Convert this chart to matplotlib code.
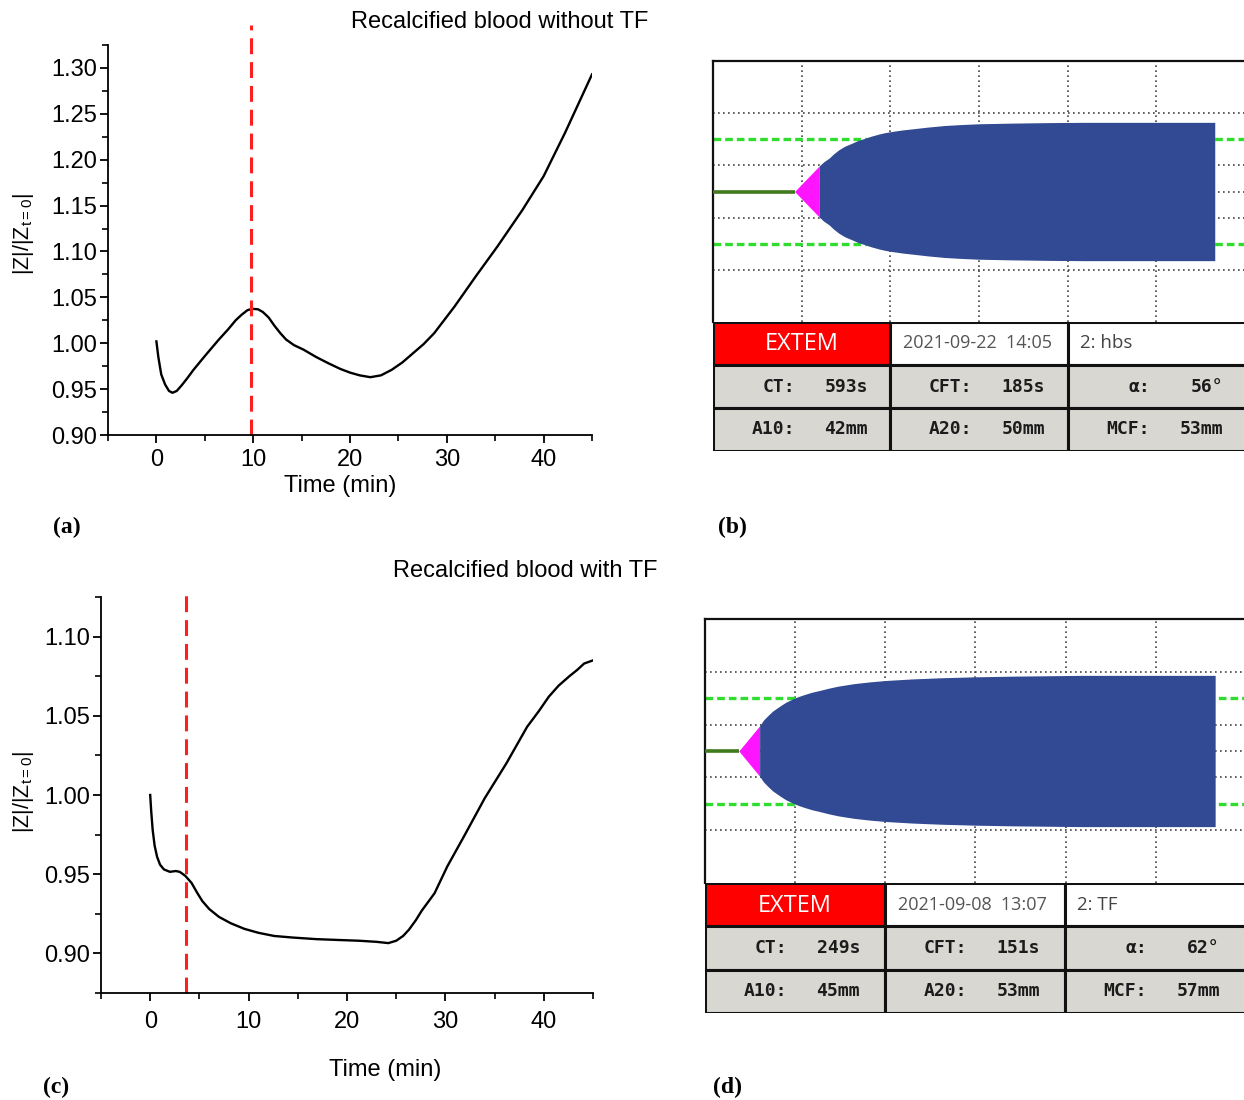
import numpy as np
import matplotlib
matplotlib.use("Agg")
import matplotlib.pyplot as plt
from matplotlib.patches import Rectangle
from matplotlib.ticker import MultipleLocator

plt.rcParams['font.family'] = ['Liberation Sans', 'DejaVu Sans']
plt.rcParams['mathtext.fontset'] = 'custom'
plt.rcParams['mathtext.rm'] = 'Liberation Sans'
plt.rcParams['mathtext.it'] = 'Liberation Sans:italic'

W, H = 1244, 1100

# ---- impedance curves ----
# (a) recalcified blood without TF
t_a = [0, 0.2, 0.5, 0.9, 1.3, 1.66, 2.1, 2.6, 3.2, 3.83, 5.0, 6.45, 7.4, 8.19, 8.8,
       9.4, 9.9, 10.5, 11.0, 11.6, 12.2, 12.8, 13.4, 14.2, 15.2, 16.5, 17.8, 19.0,
       20.0, 21.0, 22.1, 23.2, 24.3, 25.4, 26.5, 27.6, 28.7, 30.8, 33.0, 35.2, 37.8,
       40.0, 42.2, 45.0]
z_a = [1.002, 0.985, 0.966, 0.955, 0.948, 0.946, 0.948, 0.954, 0.962, 0.971, 0.986,
       1.004, 1.015, 1.025, 1.031, 1.036, 1.0375, 1.037, 1.034, 1.028, 1.019, 1.011,
       1.004, 0.998, 0.993, 0.985, 0.978, 0.972, 0.968, 0.965, 0.963, 0.965, 0.971,
       0.979, 0.989, 0.999, 1.011, 1.040, 1.073, 1.105, 1.145, 1.182, 1.229, 1.293]
marker_a = 9.8

# (c) recalcified blood with TF
t_c = [0, 0.1, 0.25, 0.45, 0.7, 1.0, 1.4, 2.0, 2.6, 3.0, 3.56, 4.2, 4.8, 5.3, 6.0,
       7.0, 8.2, 9.57, 11.0, 12.6, 14.5, 16.9, 19.0, 21.2, 23.0, 24.2, 25.0, 25.7,
       26.3, 27.0, 27.6, 28.9, 30.2, 31.9, 34.0, 36.2, 38.3, 39.5, 40.5, 41.5, 42.6,
       43.4, 44.1, 45.0]
z_c = [1.000, 0.990, 0.978, 0.968, 0.961, 0.956, 0.953, 0.9515, 0.952, 0.9515, 0.949,
       0.9445, 0.938, 0.933, 0.928, 0.923, 0.919, 0.9155, 0.913, 0.911, 0.910, 0.909,
       0.9085, 0.908, 0.9073, 0.9065, 0.908, 0.911, 0.915, 0.921, 0.927, 0.938, 0.955,
       0.974, 0.998, 1.020, 1.043, 1.053, 1.062, 1.069, 1.075, 1.079, 1.083, 1.085]
marker_c = 3.6

# ---- ROTEM traces: time (min) vs amplitude (mm) ----
rotem_b_t = [9.2, 12.0, 12.5, 13.1, 13.6, 14.2, 14.9, 15.7, 16.4, 17.2, 17.9, 18.7,
             19.4, 20.2, 21.3, 22.5, 24.3, 26.2, 28.0, 30.0, 33.7, 38.0, 42.0, 50.0,
             56.6]
rotem_b_amp = [0, 19.7, 22.8, 25.6, 28.8, 32.0, 34.8, 37.1, 39.2, 40.9, 42.5, 44.0,
               45.1, 46.0, 47.1, 48.0, 49.4, 50.6, 51.3, 51.9, 52.4, 52.8, 53.0, 53.0,
               53.0]
rotem_d_t = [3.75, 6.06, 6.5, 7.03, 7.5, 8.0, 8.5, 8.96, 9.9, 10.9, 11.8, 12.8, 13.8,
             14.75, 16.5, 18.2, 20.0, 23.0, 26.3, 30.0, 34.1, 41.8, 56.6]
rotem_d_amp = [0, 19.1, 23.5, 27.2, 30.2, 32.6, 34.9, 36.9, 40.0, 42.5, 44.4, 46.0,
               47.7, 49.1, 51.0, 52.3, 53.4, 54.6, 55.5, 56.2, 56.7, 57.3, 57.3]

header_b = ["EXTEM", "2021-09-22  14:05", "2: hbs"]
header_d = ["EXTEM", "2021-09-08  13:07", "2: TF"]
params_names = [["CT:", "CFT:", "α:"], ["A10:", "A20:", "MCF:"]]
params_b = [["593s", "185s", "56°"], ["42mm", "50mm", "53mm"]]
params_d = [["249s", "151s", "62°"], ["45mm", "53mm", "57mm"]]

fig = plt.figure(figsize=(W / 100, H / 100), dpi=100)


def px_axes(l, t, r, b):
    return fig.add_axes([l / W, 1 - b / H, (r - l) / W, (b - t) / H])


def px_text(x, y, s, **kw):
    fig.text(x / W, 1 - y / H, s, **kw)


def impedance_panel(box, t, z, marker, ylim, ytop, dash_top, xpad):
    ax = px_axes(*box)
    ax.plot(t, z, color='black', lw=1.7, solid_joinstyle='round')
    ax.axvline(marker, ymin=0, ymax=dash_top, color='#ff1f1f', lw=2.2,
               ls=(0, (5.2, 2.6)), clip_on=False)
    ax.set_xlim(-5, 45)
    ax.set_ylim(*ylim)
    ax.set_xticks([0, 10, 20, 30, 40])
    ax.xaxis.set_minor_locator(MultipleLocator(5))
    ax.set_yticks(np.arange(0.90, ytop + 0.001, 0.05))
    ax.yaxis.set_minor_locator(MultipleLocator(0.025))
    ax.yaxis.set_major_formatter('{x:.2f}')
    for s in ['top', 'right']:
        ax.spines[s].set_visible(False)
    for s in ['left', 'bottom']:
        ax.spines[s].set_linewidth(1.3)
    ax.tick_params(which='major', direction='out', length=6, width=1.3,
                   labelsize=17)
    ax.tick_params(which='minor', direction='out', length=4, width=1.2)
    ax.tick_params(axis='x', which='major', pad=xpad)
    ax.tick_params(axis='y', which='major', pad=2)
    return ax


impedance_panel((108, 45, 592, 435), t_a, z_a, marker_a, (0.90, 1.325), 1.30, 1.051, 4)
impedance_panel((101, 597, 593, 993), t_c, z_c, marker_c, (0.875, 1.125), 1.10, 1.013, 7)

ylab = r'|Z|/|Z$_{\mathregular{t=0}}$|'
px_text(500, 22, "Recalcified blood without TF", fontsize=17, ha='center', va='center')
px_text(525, 571, "Recalcified blood with TF", fontsize=17, ha='center', va='center')
px_text(340, 486, "Time (min)", fontsize=17, ha='center', va='center')
px_text(385, 1070, "Time (min)", fontsize=17, ha='center', va='center')
px_text(23, 234, ylab, fontsize=15.5, rotation=90, ha='center', va='center')
px_text(23, 792, ylab, fontsize=15.5, rotation=90, ha='center', va='center')

for lab, x, y in [("(a)", 67, 527), ("(b)", 732, 527), ("(c)", 56, 1087), ("(d)", 727, 1087)]:
    px_text(x, y, lab, fontsize=17, fontweight='bold', family='Liberation Serif',
            ha='center', va='center')


def rotem_panel(left, top, split, bottom, cols, tmax, t, amp, header, values):
    ax = px_axes(left, top, W, split)
    ax.set_xlim(0, tmax)
    ax.set_ylim(-50, 50)
    t = np.array(t)
    half = np.array(amp) / 2.0
    for g in [10, 20, 30, 40, 50]:
        ax.axvline(g, color='#444444', lw=1.2, ls=(0, (1, 2)), zorder=1)
    for g in [-30, -10, 0, 10, 30]:
        ax.axhline(g, color='#444444', lw=1.2, ls=(0, (1, 2)), zorder=1)
    for g in [-20, 20]:
        ax.axhline(g, color='#2fdc2f', lw=2.4, ls=(0, (2.3, 1.2)), zorder=1)
    ax.plot([0, t[0]], [0, 0], color='#3f7a1c', lw=2.6, zorder=3,
            solid_capstyle='butt')
    pink = half <= 10.5
    ax.fill_between(t[pink], -half[pink], half[pink], color='#ff14ff', lw=0, zorder=2)
    k = np.argmax(~pink) - 1
    ax.fill_between(t[k:], -half[k:], half[k:], color='#314a93', lw=0, zorder=2)
    ax.set_xticks([])
    ax.set_yticks([])
    ax.spines['right'].set_visible(False)
    ax.spines['bottom'].set_visible(False)
    for s in ['left', 'top']:
        ax.spines[s].set_linewidth(1.6)
        ax.spines[s].set_color('#111111')

    tb = px_axes(left, split, W, bottom)
    tb.set_xlim(left, W)
    tb.set_ylim(bottom, split)
    tb.axis('off')
    edges = list(cols) + [W + 6]
    rh = (bottom - split) / 3.0
    fills = [['#ff0000', 'white', 'white'], ['#d8d7d1'] * 3, ['#d8d7d1'] * 3]
    for r in range(3):
        for c in range(3):
            tb.add_patch(Rectangle((edges[c], split + r * rh), edges[c + 1] - edges[c], rh,
                                   facecolor=fills[r][c], edgecolor='#111111', lw=2.2))
    yc = split + rh / 2
    tb.text((edges[0] + edges[1]) / 2, yc + 1, header[0], color='white', fontsize=17,
            family='Open Sans', ha='center', va='center')
    tb.text(edges[1] + 13, yc, header[1], color='#555555', fontsize=13,
            family='Open Sans', ha='left', va='center')
    tb.text(edges[2] + 12, yc, header[2], color='#444444', fontsize=13.5,
            family='Open Sans', ha='left', va='center')
    for r in range(2):
        y = split + (r + 1.5) * rh
        for c in range(3):
            tb.text(edges[c] + 82, y, params_names[r][c], fontsize=13, fontweight='bold',
                    family='DejaVu Sans Mono', color='#1c1c1c', ha='right', va='center')
            tb.text(edges[c] + 155, y, values[r][c], fontsize=13, fontweight='bold',
                    family='DejaVu Sans Mono', color='#1c1c1c', ha='right', va='center')


rotem_panel(713, 61, 322, 451, [713, 890, 1068], 59.9, rotem_b_t, rotem_b_amp,
            header_b, params_b)
rotem_panel(705, 619, 883, 1013, [705, 885, 1065], 59.8, rotem_d_t, rotem_d_amp,
            header_d, params_d)

fig.savefig("out.png", dpi=100)
